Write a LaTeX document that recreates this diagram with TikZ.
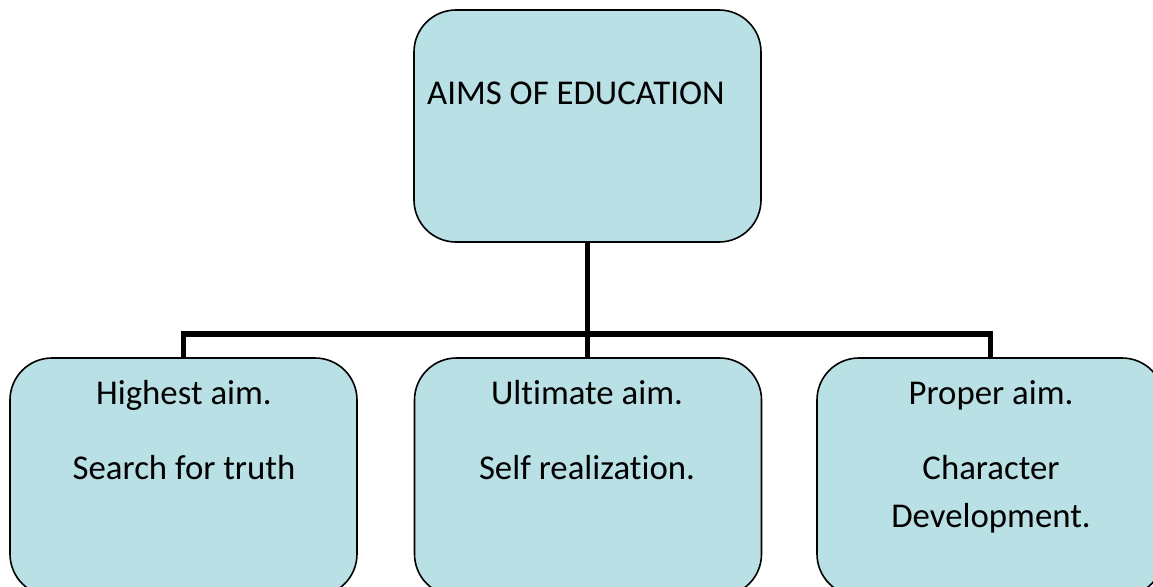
\documentclass[tikz,border=0pt]{standalone}
\usepackage{fontspec}
\setmainfont{Carlito}[Ligatures=NoCommon]
\usepackage{tikz}
\definecolor{aimfill}{RGB}{185,224,228}
\tikzset{>=latex}

\begin{document}
\begin{tikzpicture}[x=1pt, y=-1pt,
                line cap=butt, line join=miter,
                aimbox/.style={draw=black, fill=aimfill, line width=1.6,
                    rounded corners=42, minimum width=347, minimum height=232,
                    inner sep=0},
                link/.style={black, line width=5.5},
                aimtext/.style={anchor=base, inner sep=0,
                    font=\fontsize{34.8}{42}\selectfont}]
                \def\yBus{334}
                \def\yOne{404}
                \def\yTwo{479}

                % frame of the page
                \path[use as bounding box] (0,0) rectangle (1153,586);
                \clip (0,0) rectangle (1153,586);

                % boxes
                \node[aimbox] (top) at (587.5,126) {};
                \node[aimbox, minimum height=238] (hi)  at (183.5,477) {};
                \node[aimbox, minimum height=238] (ult) at (588,477) {};
                \node[aimbox, minimum height=238] (pro) at (990.5,477) {};

                % connectors
                \coordinate (bus) at (587.5,\yBus);
                \draw[link] (top.south) -- (bus);
                \draw[link] (bus) -- (bus |- ult.north);
                \draw[link] (hi.north) |- (bus) -| (pro.north);

                % texts
                \node[aimtext, anchor=base west] (topT) at (427,104) {AIMS OF EDUCATION};
                \node[aimtext] (hiA)  at (184,\yOne) {Highest aim.};
                \node[aimtext] (hiB)  at (184,\yTwo) {Search for truth};
                \node[aimtext] (ultA) at (587,\yOne) {Ultimate aim.};
                \node[aimtext] (ultB) at (587,\yTwo) {Self realization.};
                \node[aimtext] (proA) at (991,\yOne) {Proper aim.};
                \node[aimtext] (proB) at (991,\yTwo) {Character};
                \node[aimtext] (proC) at (991,527) {Development.};

            \end{tikzpicture}
\end{document}
